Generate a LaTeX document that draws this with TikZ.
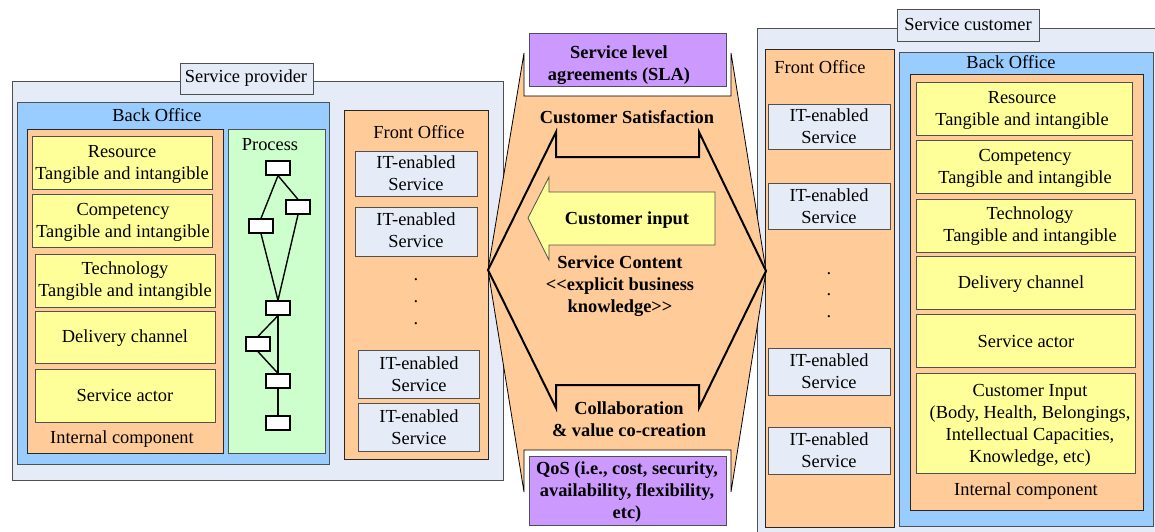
\documentclass[tikz,border=0pt]{standalone}
\usepackage{fontspec}
\setmainfont{Liberation Serif}
\definecolor{outerc}{HTML}{E6ECF7}
\definecolor{backc}{HTML}{99CCFF}
\definecolor{orangec}{HTML}{FFCC99}
\definecolor{yellowc}{HTML}{FFFF99}
\definecolor{greenc}{HTML}{CCFFCC}
\definecolor{purplec}{HTML}{CC99FF}
\definecolor{edgec}{HTML}{505050}
\newcommand\fs{\fontsize{18.4}{22}\selectfont}
\newcommand\tbox[9]{%
  \node[#1, minimum width={(#5-#3)*1pt}, minimum height={(#6-#4)*1pt}] (#2) at ({(#3+#5)/2},{(#4+#6)/2}) {};%
  \node[txt] (#2-t) at (#7,#8) {#9};}
\newcommand\rbox[6]{%
  \node[#1, minimum width={(#5-#3)*1pt}, minimum height={(#6-#4)*1pt}] (#2) at ({(#3+#5)/2},{(#4+#6)/2}) {};}
\tikzset{
  basebox/.style={draw=edgec, line width=0.9pt, inner sep=0pt, outer sep=0pt},
  outerbox/.style={basebox, fill=outerc},
  backbox/.style={basebox, fill=backc},
  orangebox/.style={basebox, draw=black!85, fill=orangec},
  yellowbox/.style={basebox, fill=yellowc},
  greenbox/.style={basebox, fill=greenc},
  itbox/.style={basebox, fill=outerc},
  purplebox/.style={basebox, fill=purplec},
  txt/.style={inner sep=0pt, align=center, font=\fs},
  btxt/.style={txt, font=\fs\bfseries},
  dotnode/.style={inner sep=0pt, anchor=base, font=\fs},
  procnode/.style={draw=black, line width=1.3pt, fill=white, minimum width=24pt, minimum height=14pt, inner sep=0pt},
  procedge/.style={line width=1.4pt, draw=black},
  heavyline/.style={line width=2pt, draw=black, line join=miter},
}
\begin{document}
\begin{tikzpicture}[x=1pt,y=-1pt]
\useasboundingbox (0,0) rectangle (1155,532);
\clip (0,0) rectangle (1155,532);
% ---------------- Service provider ----------------
\rbox{outerbox}{prov}{12}{81}{503}{480}
\tbox{outerbox}{provlbl}{180}{63}{313}{94}{246}{78}{Service provider}
\tbox{backbox}{pback}{17}{102}{329}{464}{157}{115}{Back Office}
\tbox{orangebox}{pint}{27}{129}{223}{453}{122}{439}{Internal component}
\tbox{yellowbox}{pres}{32}{136}{212}{189}{122}{164.5}{Resource\\Tangible and intangible}
\tbox{yellowbox}{pcom}{32}{194}{212}{247}{123}{222.5}{Competency\\Tangible and intangible}
\tbox{yellowbox}{ptec}{35}{254}{215}{307}{125}{281}{Technology\\Tangible and intangible}
\tbox{yellowbox}{pdel}{35}{311}{215}{363}{125}{338.5}{Delivery channel}
\tbox{yellowbox}{pact}{35}{369}{215}{422}{125}{395}{Service actor}
\tbox{greenbox}{pproc}{228}{129}{325}{453}{270}{144.5}{Process}
% process graph
\node[procnode] (p1) at (278,168) {};
\node[procnode] (p2) at (298,207) {};
\node[procnode] (p3) at (261,226) {};
\node[procnode] (p4) at (278,308) {};
\node[procnode] (p5) at (258,344) {};
\node[procnode] (p6) at (278,381) {};
\node[procnode] (p7) at (278,423) {};
\draw[procedge] (p1.south) -- (p3.north);
\draw[procedge] (p1.south) -- (p2.north);
\draw[procedge] (p3.south) -- (p4.north);
\draw[procedge] (p2.south) -- (p4.north);
\draw[procedge] (p4.south) -- (p5.north);
\draw[procedge] (p4.south) -- (p6.north);
\draw[procedge] (p5.south) -- (p6.north);
\draw[procedge] (p6.south) -- (p7.north);
% front office (provider)
\tbox{orangebox}{pfront}{344}{110}{488}{459}{419}{132}{Front Office}
\tbox{itbox}{pit1}{355}{151}{477}{196}{416}{173}{IT-enabled\\Service}
\tbox{itbox}{pit2}{355}{207}{477}{256}{416}{230.5}{IT-enabled\\Service}
\node[dotnode] (pd1) at (416,280) {.};
\node[dotnode] (pd2) at (416,302) {.};
\node[dotnode] (pd3) at (416,324) {.};
\tbox{itbox}{pit3}{358}{350}{479}{398}{419}{374}{IT-enabled\\Service}
\tbox{itbox}{pit4}{358}{403}{479}{451}{419}{427}{IT-enabled\\Service}
% ---------------- Service customer ----------------
\rbox{outerbox}{cust}{757}{28}{1170}{545}
\tbox{outerbox}{custlbl}{897}{9}{1039}{41}{968}{25}{Service customer}
\tbox{orangebox}{cfront}{765}{49}{894}{527}{820}{67}{Front Office}
\tbox{itbox}{cit1}{768}{104}{890}{149}{829}{126.5}{IT-enabled\\Service}
\tbox{itbox}{cit2}{768}{183}{890}{229}{829}{206}{IT-enabled\\Service}
\node[dotnode] (cd1) at (829,274) {.};
\node[dotnode] (cd2) at (829,295) {.};
\node[dotnode] (cd3) at (829,317) {.};
\tbox{itbox}{cit3}{768}{348}{890}{395}{829}{371}{IT-enabled\\Service}
\tbox{itbox}{cit4}{768}{427}{890}{474}{829}{450.5}{IT-enabled\\Service}
\tbox{backbox}{cback}{899}{52}{1153}{526}{1011}{62}{Back Office}
\tbox{orangebox}{cint}{910}{74}{1143}{510}{1026}{491}{Internal component}
\tbox{yellowbox}{cres}{916}{82}{1132}{135}{1022}{110}{Resource\\Tangible and intangible}
\tbox{yellowbox}{ccom}{916}{140}{1132}{193}{1025}{168}{Competency\\Tangible and intangible}
\tbox{yellowbox}{ctec}{916}{199}{1135}{252}{1030}{226.5}{Technology\\Tangible and intangible}
\tbox{yellowbox}{cdel}{916}{256}{1135}{309}{1021}{284.5}{Delivery channel}
\tbox{yellowbox}{cact}{916}{314}{1135}{367}{1026}{341}{Service actor}
\tbox{yellowbox}{cinp}{916}{373}{1135}{473}{1030}{425}{Customer Input\\(Body, Health, Belongings,\\Intellectual Capacities,\\Knowledge, etc)}
% ---------------- middle ----------------
\fill[orangec] (524,53) -- (524,96) -- (731,96) -- (731,53) -- (766,271) -- (731,492) -- (731,450) -- (524,450) -- (524,492) -- (488,270) -- cycle;
\draw[black, line width=0.8pt] (524,53) -- (524,96) -- (731,96) -- (731,53) -- (766,271) -- (731,492) -- (731,450) -- (524,450) -- (524,492) -- (488,270) -- cycle;
\draw[heavyline] (488,270) -- (556,132) -- (556,157) -- (699,157) -- (699,132) -- (766,271) -- (699,408) -- (699,385) -- (556,385) -- (556,408) -- cycle;
\tbox{purplebox}{sla}{529}{33}{726}{86}{619}{65.5}{\bfseries Service level\\\bfseries agreements (SLA)}
\tbox{purplebox}{qos}{529}{456}{726}{525}{627}{492.5}{\bfseries QoS (i.e., cost, security,\\\bfseries availability, flexibility,\\\bfseries etc)}
\node[btxt] (csat) at (627,117) {Customer Satisfaction};
\fill[yellowc, draw=edgec, line width=0.8pt] (528,218) -- (549,177) -- (549,192) -- (715,192) -- (715,245) -- (549,245) -- (549,260) -- cycle;
\node[btxt] (cinput) at (627,220) {Customer input};
\node[btxt] (scont) at (620,286.5) {Service Content\\<\kern0pt<explicit business\\knowledge>\kern0pt>};
\node[btxt] (collab) at (629,419) {Collaboration\\\& value co-creation};
\end{tikzpicture}
\end{document}
